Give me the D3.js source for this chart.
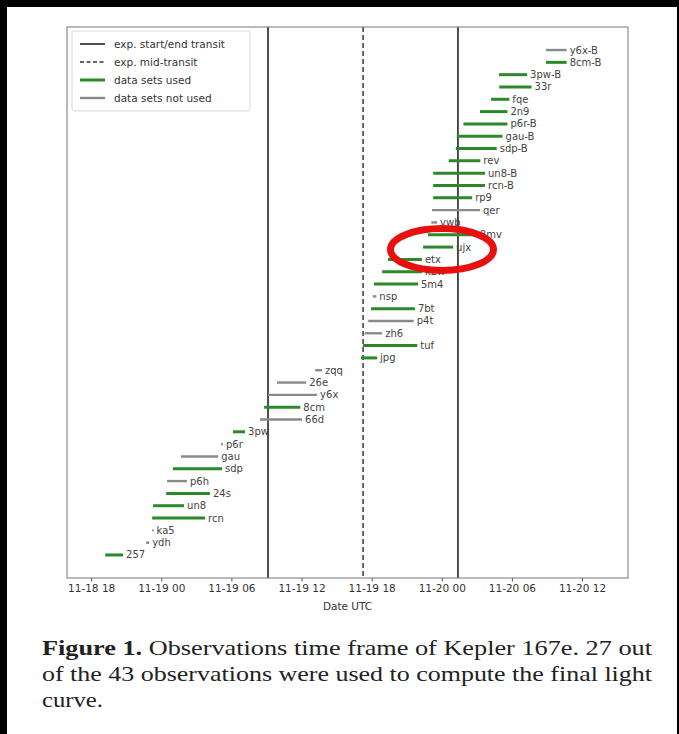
<!DOCTYPE html>
<html>
<head>
<meta charset="utf-8">
<script src="https://cdn.jsdelivr.net/npm/d3@7"></script>
<style>
  html, body { margin: 0; padding: 0; background: #000; }
  svg { display: block; }
</style>
</head>
<body>
<svg id="fig" width="679" height="734"></svg>
<script>
// Observation windows, listed top to bottom as drawn
const obsLabels = [
  "y6x-B", "8cm-B", "3pw-B", "33r", "fqe", "2n9", "p6r-B", "gau-B", "sdp-B", "rev",
  "un8-B", "rcn-B", "rp9", "qer", "vwb", "8mv", "ujx", "etx", "k2w", "5m4",
  "nsp", "7bt", "p4t", "zh6", "tuf", "jpg", "zqq", "26e", "y6x", "8cm",
  "66d", "3pw", "p6r", "gau", "sdp", "p6h", "24s", "un8", "rcn", "ka5",
  "ydh", "257"
];
const obsStart = [
  "2018-11-20T08:55", "2018-11-20T08:55", "2018-11-20T04:54", "2018-11-20T04:55", "2018-11-20T04:13",
  "2018-11-20T03:16", "2018-11-20T01:51", "2018-11-20T01:17", "2018-11-20T01:12", "2018-11-20T00:36",
  "2018-11-19T23:16", "2018-11-19T23:16", "2018-11-19T23:16", "2018-11-19T23:10", "2018-11-19T23:06",
  "2018-11-19T22:49", "2018-11-19T22:24", "2018-11-19T19:24", "2018-11-19T18:54", "2018-11-19T18:12",
  "2018-11-19T18:06", "2018-11-19T17:57", "2018-11-19T17:42", "2018-11-19T17:24", "2018-11-19T17:16",
  "2018-11-19T17:05", "2018-11-19T13:10", "2018-11-19T09:54", "2018-11-19T09:08", "2018-11-19T08:48",
  "2018-11-19T08:27", "2018-11-19T06:08", "2018-11-19T05:07", "2018-11-19T01:41", "2018-11-19T01:00",
  "2018-11-19T00:30", "2018-11-19T00:25", "2018-11-18T23:18", "2018-11-18T23:13", "2018-11-18T23:13",
  "2018-11-18T22:42", "2018-11-18T19:12"
];
const obsEnd = [
  "2018-11-20T10:41", "2018-11-20T10:41", "2018-11-20T07:18", "2018-11-20T07:41", "2018-11-20T05:47",
  "2018-11-20T05:37", "2018-11-20T05:37", "2018-11-20T05:12", "2018-11-20T04:42", "2018-11-20T03:18",
  "2018-11-20T03:42", "2018-11-20T03:42", "2018-11-20T02:36", "2018-11-20T03:16", "2018-11-19T23:36",
  "2018-11-20T03:00", "2018-11-20T00:58", "2018-11-19T22:18", "2018-11-19T22:18", "2018-11-19T21:58",
  "2018-11-19T18:24", "2018-11-19T21:42", "2018-11-19T21:36", "2018-11-19T18:54", "2018-11-19T21:54",
  "2018-11-19T18:28", "2018-11-19T13:45", "2018-11-19T12:24", "2018-11-19T13:20", "2018-11-19T11:54",
  "2018-11-19T12:03", "2018-11-19T07:10", "2018-11-19T05:17", "2018-11-19T04:52", "2018-11-19T05:12",
  "2018-11-19T02:12", "2018-11-19T04:10", "2018-11-19T01:57", "2018-11-19T03:45", "2018-11-18T23:19",
  "2018-11-18T22:58", "2018-11-18T20:44"
];
// 1 = data set used in the final light curve, 0 = not used
const obsUsed = [
  0, 1, 1, 1, 1, 1, 1, 1, 1, 1,
  1, 1, 1, 0, 0, 1, 1, 1, 1, 1,
  0, 1, 0, 0, 1, 1, 0, 0, 0, 1,
  0, 1, 0, 0, 1, 0, 1, 1, 1, 0,
  0, 1
];

// Expected transit times
const transitStartEnd = ["2018-11-19T09:08", "2018-11-20T01:23"];
const transitMid = ["2018-11-19T17:16"];

// Axis settings
const xDomain = ["2018-11-18T15:56", "2018-11-20T15:56"];
const xTicks = [
  "2018-11-18T18:00", "2018-11-19T00:00", "2018-11-19T06:00", "2018-11-19T12:00",
  "2018-11-19T18:00", "2018-11-20T00:00", "2018-11-20T06:00", "2018-11-20T12:00"
];

const legendLabels = ["exp. start/end transit", "exp. mid-transit", "data sets used", "data sets not used"];

const captionLines = [
  ["Figure 1.", " Observations time frame of Kepler 167e.  27 out"],
  ["", "of the 43 observations were used to compute the final light"],
  ["", "curve."]
];

const parse = s => new Date(s + ":00Z");

const svg = d3.select("#fig");
const W = 679, H = 734;

// page: black scan border around a white sheet
svg.append("rect").attr("x", 0).attr("y", 0).attr("width", W).attr("height", H).attr("fill", "#000");
svg.append("rect").attr("x", 7).attr("y", 7).attr("width", W - 9).attr("height", H - 7).attr("fill", "#fff");

const plot = { left: 67, right: 628, top: 27, bottom: 578 };

const x = d3.scaleUtc()
  .domain(xDomain.map(parse))
  .range([plot.left, plot.right]);

const y = d3.scalePoint()
  .domain(obsLabels.map((d, i) => i))
  .range([plot.top, plot.bottom])
  .padding(1.87);

const GREEN = "#2a8a2a";
const GRAY = "#8a8a8a";
const FONT = "'DejaVu Sans', sans-serif";

const g = svg.append("g");

// expected transit lines
g.selectAll("line.tse").data(transitStartEnd).join("line")
  .attr("class", "tse")
  .attr("x1", d => x(parse(d))).attr("x2", d => x(parse(d)))
  .attr("y1", plot.top).attr("y2", plot.bottom)
  .attr("stroke", "#222").attr("stroke-width", 1.6);

g.selectAll("line.tmid").data(transitMid).join("line")
  .attr("class", "tmid")
  .attr("x1", d => x(parse(d))).attr("x2", d => x(parse(d)))
  .attr("y1", plot.top).attr("y2", plot.bottom)
  .attr("stroke", "#444").attr("stroke-width", 1.6)
  .attr("stroke-dasharray", "5,3");

// observation windows
const rows = obsLabels.map((label, i) => ({
  i, label, start: parse(obsStart[i]), end: parse(obsEnd[i]), used: obsUsed[i] === 1
}));

g.selectAll("line.obs").data(rows).join("line")
  .attr("class", "obs")
  .attr("x1", d => x(d.start)).attr("x2", d => Math.max(x(d.end), x(d.start) + 1.5))
  .attr("y1", d => y(d.i)).attr("y2", d => y(d.i))
  .attr("stroke", d => d.used ? GREEN : GRAY)
  .attr("stroke-width", d => d.used ? 3 : 2.4);

g.selectAll("text.obs").data(rows).join("text")
  .attr("class", "obs")
  .attr("x", d => Math.max(x(d.end), x(d.start) + 1.5) + 3)
  .attr("y", d => y(d.i))
  .attr("dy", "0.35em")
  .attr("font-family", FONT).attr("font-size", 10)
  .attr("fill", "#444")
  .text(d => d.label);

// frame
svg.append("rect")
  .attr("x", plot.left).attr("y", plot.top)
  .attr("width", plot.right - plot.left).attr("height", plot.bottom - plot.top)
  .attr("fill", "none").attr("stroke", "#777").attr("stroke-width", 1);

// x axis
const xAxis = d3.axisBottom(x)
  .tickValues(xTicks.map(parse))
  .tickFormat(d3.utcFormat("%m-%d %H"))
  .tickSize(3.5).tickPadding(3);

const ax = svg.append("g")
  .attr("transform", `translate(0,${plot.bottom})`)
  .call(xAxis);
ax.select(".domain").remove();
ax.selectAll(".tick line").attr("stroke", "#555");
ax.selectAll(".tick text").attr("font-family", FONT).attr("font-size", 10.5).attr("fill", "#333");

svg.append("text")
  .attr("x", (plot.left + plot.right) / 2).attr("y", 610)
  .attr("text-anchor", "middle")
  .attr("font-family", FONT).attr("font-size", 10.5).attr("fill", "#333")
  .text("Date UTC");

// legend
const lg = svg.append("g").attr("transform", "translate(72,31)");
lg.append("rect").attr("x", 0).attr("y", 0).attr("width", 178).attr("height", 80)
  .attr("rx", 2).attr("fill", "#fff").attr("stroke", "#d8d8d8");
const legendStyle = [
  { color: "#222", width: 1.6, dash: null },
  { color: "#333", width: 1.6, dash: "4,2.5" },
  { color: GREEN, width: 3, dash: null },
  { color: GRAY, width: 2.4, dash: null }
];
legendLabels.forEach((t, i) => {
  const yy = 13 + i * 18;
  lg.append("line").attr("x1", 8).attr("x2", 33).attr("y1", yy).attr("y2", yy)
    .attr("stroke", legendStyle[i].color).attr("stroke-width", legendStyle[i].width)
    .attr("stroke-dasharray", legendStyle[i].dash);
  lg.append("text").attr("x", 42).attr("y", yy).attr("dy", "0.35em")
    .attr("font-family", FONT).attr("font-size", 10.5).attr("fill", "#333")
    .text(t);
});

// red highlight ring around the ujx window
svg.append("ellipse")
  .attr("cx", 442).attr("cy", 249.5).attr("rx", 51.5).attr("ry", 21)
  .attr("fill", "none").attr("stroke", "#e8100f").attr("stroke-width", 7);

// caption, stretched to the justified column width
const capY = [655, 681, 707];
const capLen = [610, 610, 61];
captionLines.forEach((ln, i) => {
  const t = svg.append("text")
    .attr("x", 42).attr("y", capY[i])
    .attr("font-family", "'Liberation Serif', 'DejaVu Serif', serif")
    .attr("font-size", 21).attr("fill", "#222")
    .attr("textLength", capLen[i]).attr("lengthAdjust", "spacingAndGlyphs");
  if (ln[0]) t.append("tspan").attr("font-weight", "bold").text(ln[0]);
  t.append("tspan").text(ln[1]);
});
</script>
</body>
</html>
